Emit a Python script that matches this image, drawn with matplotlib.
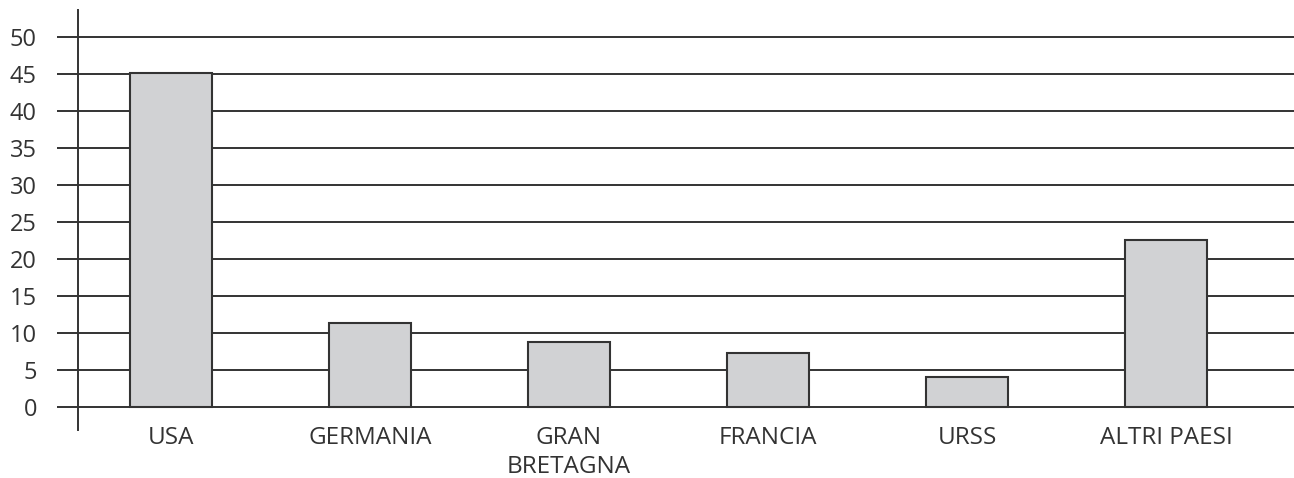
import matplotlib.pyplot as plt
import numpy as np

# dati
paesi = ['USA', 'GERMANIA', 'GRAN\nBRETAGNA', 'FRANCIA', 'URSS', 'ALTRI PAESI']
valori = [45.2, 11.4, 8.8, 7.3, 4.0, 22.6]
yticks = [0, 5, 10, 15, 20, 25, 30, 35, 40, 45, 50]

grigio = '#333333'
plt.rcParams['font.family'] = ['Open Sans', 'DejaVu Sans']

fig = plt.figure(figsize=(12.94, 4.78), dpi=100)
ax = fig.add_axes([78/1294, 1-430/478, 1-78/1294, 420/478])

x = np.arange(len(paesi))
ax.bar(x, valori, width=0.41, color='#d1d2d4', edgecolor=grigio, linewidth=1.5, zorder=3)

ax.set_xlim(-0.467, 5.643)
ax.set_ylim(-3.1, 53.65)
ax.set_yticks(yticks)
ax.set_yticklabels([str(v) for v in yticks], fontsize=17, color=grigio)
ax.set_xticks(x)
ax.set_xticklabels(paesi, fontsize=17.5, color=grigio, linespacing=1.3)

ax.yaxis.grid(True, color=grigio, linewidth=1.4, zorder=0)
ax.set_axisbelow(True)
ax.tick_params(axis='y', length=15.1, width=1.4, color=grigio, pad=14.5)
ax.tick_params(axis='x', length=0, pad=-3)

for s in ['top', 'right', 'bottom']:
    ax.spines[s].set_visible(False)
ax.spines['left'].set_color(grigio)
ax.spines['left'].set_linewidth(1.4)

fig.savefig('out.png', dpi=100)
